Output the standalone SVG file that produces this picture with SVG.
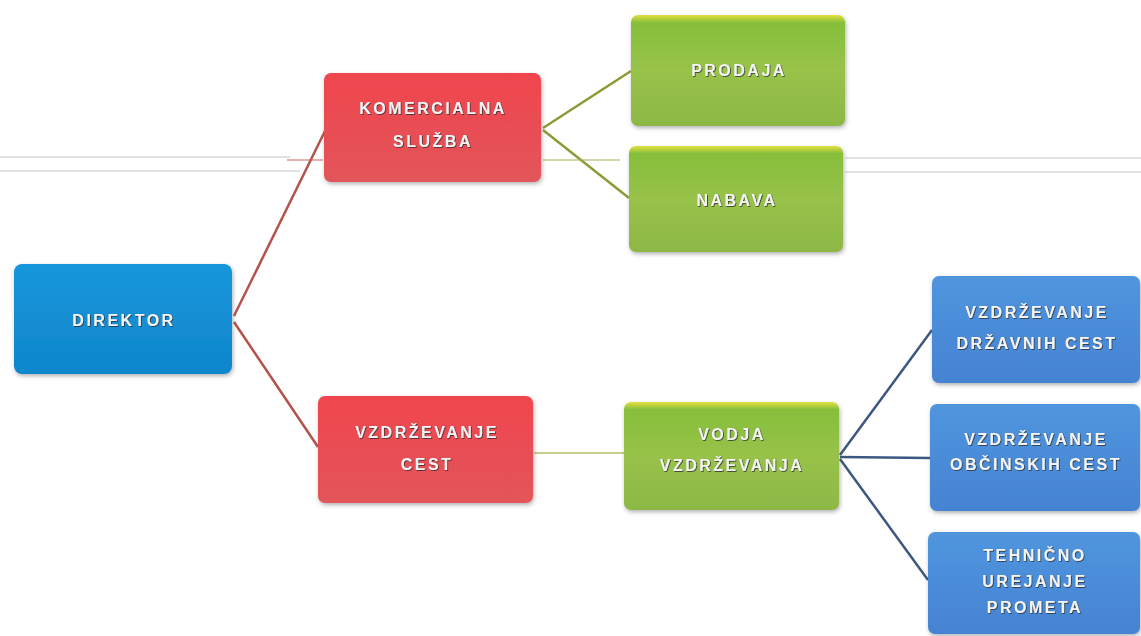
<svg xmlns="http://www.w3.org/2000/svg" width="1141" height="636" viewBox="0 0 1141 636">
<defs>
<linearGradient id="gBlue" x1="0" y1="0" x2="0" y2="1"><stop offset="0" stop-color="#1796dc"/><stop offset="1" stop-color="#0f86cc"/></linearGradient>
<linearGradient id="gRed" x1="0" y1="0" x2="0" y2="1"><stop offset="0" stop-color="#f0454e"/><stop offset="1" stop-color="#e2555a"/></linearGradient>
<linearGradient id="gGreen" x1="0" y1="0" x2="0" y2="1"><stop offset="0" stop-color="#e6e040"/><stop offset="0.07" stop-color="#86bf3a"/><stop offset="0.5" stop-color="#98c24a"/><stop offset="1" stop-color="#8db845"/></linearGradient>
<linearGradient id="gLBlue" x1="0" y1="0" x2="0" y2="1"><stop offset="0" stop-color="#5095de"/><stop offset="1" stop-color="#4583d2"/></linearGradient>
<filter id="sh" x="-10%" y="-10%" width="120%" height="130%"><feDropShadow dx="1" dy="2" stdDeviation="2" flood-color="#555" flood-opacity="0.45"/></filter>
<filter id="ts" x="-10%" y="-30%" width="120%" height="160%"><feDropShadow dx="0.8" dy="0.8" stdDeviation="0.4" flood-color="#2a2a2a" flood-opacity="0.9"/></filter>
</defs>
<style>
.box{filter:url(#sh);}
.t{font-family:"Liberation Sans",Arial,sans-serif;font-weight:bold;font-size:16px;fill:#f4f4f4;text-anchor:middle;letter-spacing:2.5px;filter:url(#ts);}
.cr{stroke:#b4524c;stroke-width:2.5;fill:none;}
.cg{stroke:#8e9a36;stroke-width:2.5;fill:none;}
.cb{stroke:#3d5880;stroke-width:2.5;fill:none;}
.scan{stroke:#d8d8d8;stroke-width:1.5;fill:none;}
</style>
<rect width="1141" height="636" fill="#ffffff"/>
<line class="scan" x1="0" y1="157" x2="290" y2="157"/>
<line class="scan" x1="0" y1="171" x2="300" y2="171"/>
<line class="scan" x1="845" y1="158" x2="1141" y2="158"/>
<line class="scan" x1="845" y1="172" x2="1141" y2="172"/>
<g id="connectors">
<line class="cr" x1="234" y1="316" x2="325" y2="131"/>
<line class="cr" x1="234" y1="322" x2="318" y2="447"/>
<line x1="287" y1="160" x2="323" y2="160" stroke="#c0675f" stroke-width="1"/>
<line class="cg" x1="543" y1="128" x2="631" y2="71"/>
<line class="cg" x1="543" y1="130" x2="629" y2="198"/>
<line x1="543" y1="160" x2="620" y2="160" stroke="#a5ad55" stroke-width="1"/>
<line x1="534" y1="453" x2="624" y2="453" stroke="#c9cc8a" stroke-width="2"/>
<line class="cb" x1="840" y1="455" x2="932" y2="330"/>
<line class="cb" x1="840" y1="457" x2="930" y2="458"/>
<line class="cb" x1="840" y1="459" x2="928" y2="580"/>
</g>
<g id="direktor"><rect class="box" x="14" y="264" width="218" height="110" rx="8" fill="url(#gBlue)"/><text class="t" x="124" y="326">DIREKTOR</text></g>
<g id="komercialna"><rect class="box" x="324" y="73" width="217" height="109" rx="7" fill="url(#gRed)"/><text class="t" x="433" y="114">KOMERCIALNA</text><text class="t" x="433" y="147">SLUŽBA</text></g>
<g id="vzdrzevanje-cest"><rect class="box" x="318" y="396" width="215" height="107" rx="7" fill="url(#gRed)"/><text class="t" x="427" y="438">VZDRŽEVANJE</text><text class="t" x="427" y="470">CEST</text></g>
<g id="prodaja"><rect class="box" x="631" y="15" width="214" height="111" rx="7" fill="url(#gGreen)"/><text class="t" x="739" y="76">PRODAJA</text></g>
<g id="nabava"><rect class="box" x="629" y="146" width="214" height="106" rx="7" fill="url(#gGreen)"/><text class="t" x="737" y="206">NABAVA</text></g>
<g id="vodja"><rect class="box" x="624" y="402" width="215" height="108" rx="7" fill="url(#gGreen)"/><text class="t" x="732" y="440">VODJA</text><text class="t" x="732" y="471">VZDRŽEVANJA</text></g>
<g id="drzavne"><rect class="box" x="932" y="276" width="208" height="107" rx="7" fill="url(#gLBlue)"/><text class="t" x="1037" y="318">VZDRŽEVANJE</text><text class="t" x="1037" y="349">DRŽAVNIH CEST</text></g>
<g id="obcinske"><rect class="box" x="930" y="404" width="210" height="107" rx="7" fill="url(#gLBlue)"/><text class="t" x="1036" y="445">VZDRŽEVANJE</text><text class="t" x="1036" y="470">OBČINSKIH CEST</text></g>
<g id="tehnicno"><rect class="box" x="928" y="532" width="212" height="102" rx="7" fill="url(#gLBlue)"/><text class="t" x="1035" y="561">TEHNIČNO</text><text class="t" x="1035" y="587">UREJANJE</text><text class="t" x="1035" y="613">PROMETA</text></g>
</svg>
